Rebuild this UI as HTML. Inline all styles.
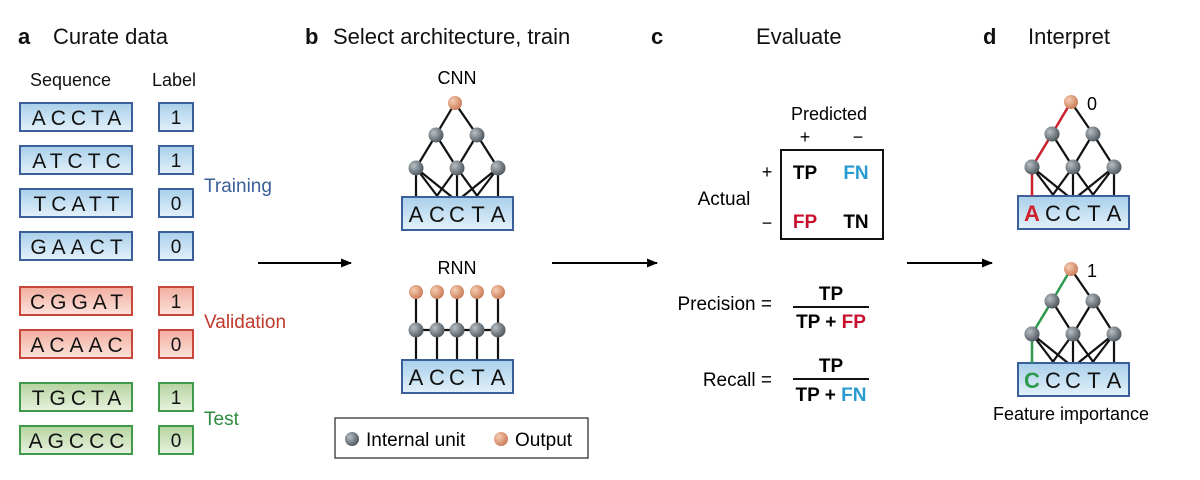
<!DOCTYPE html>
<html><head><meta charset="utf-8"><style>
body{margin:0;background:#fff;width:1200px;height:480px;overflow:hidden}
svg{display:block;font-family:"Liberation Sans",sans-serif}
</style></head><body>
<svg width="1200" height="480" viewBox="0 0 1200 480">
<defs>
<linearGradient id="gb" x1="0" y1="0" x2="0" y2="1"><stop offset="0" stop-color="#a9cfea"/><stop offset="1" stop-color="#e3f1fa"/></linearGradient>
<linearGradient id="gr" x1="0" y1="0" x2="0" y2="1"><stop offset="0" stop-color="#f2ad9f"/><stop offset="1" stop-color="#fce3dc"/></linearGradient>
<linearGradient id="gg" x1="0" y1="0" x2="0" y2="1"><stop offset="0" stop-color="#b5d3a0"/><stop offset="1" stop-color="#e8f2df"/></linearGradient>
<radialGradient id="gn" cx="0.35" cy="0.35" r="0.7"><stop offset="0" stop-color="#b8bfc4"/><stop offset="1" stop-color="#4b555c"/></radialGradient>
<radialGradient id="go" cx="0.35" cy="0.35" r="0.7"><stop offset="0" stop-color="#f6cdb3"/><stop offset="1" stop-color="#c97a55"/></radialGradient>
<marker id="ar" markerWidth="11" markerHeight="9" refX="10" refY="4.5" orient="auto" markerUnits="userSpaceOnUse"><path d="M0,0 L11,4.5 L0,9 Z" fill="#000"/></marker>
<g id="cnn">
<g stroke="#111" stroke-width="2.2" fill="none">
<line x1="455" y1="103" x2="436" y2="135"/><line x1="455" y1="103" x2="477" y2="135"/>
<line x1="436" y1="135" x2="416" y2="168"/><line x1="436" y1="135" x2="457" y2="168"/>
<line x1="477" y1="135" x2="457" y2="168"/><line x1="477" y1="135" x2="498" y2="168"/>
<line x1="416" y1="168" x2="416" y2="197"/><line x1="416" y1="168" x2="438" y2="197"/><line x1="416" y1="168" x2="452" y2="197"/>
<line x1="457" y1="168" x2="436" y2="197"/><line x1="457" y1="168" x2="457" y2="197"/><line x1="457" y1="168" x2="478" y2="197"/>
<line x1="498" y1="168" x2="462" y2="197"/><line x1="498" y1="168" x2="476" y2="197"/><line x1="498" y1="168" x2="498" y2="197"/>
</g>
<circle cx="436" cy="135" r="7.5" fill="url(#gn)"/><circle cx="477" cy="135" r="7.5" fill="url(#gn)"/>
<circle cx="416" cy="168" r="7.5" fill="url(#gn)"/><circle cx="457" cy="168" r="7.5" fill="url(#gn)"/><circle cx="498" cy="168" r="7.5" fill="url(#gn)"/>
<rect x="402" y="197" width="111" height="33" fill="url(#gb)" stroke="#3a5f9a" stroke-width="2"/>
</g>
</defs>
<g font-size="22" fill="#111">
<text x="18" y="44" font-weight="bold">a</text><text x="53" y="44">Curate data</text>
<text x="305" y="44" font-weight="bold">b</text><text x="333" y="44">Select architecture, train</text>
<text x="651" y="44" font-weight="bold">c</text><text x="756" y="44">Evaluate</text>
<text x="983" y="44" font-weight="bold">d</text><text x="1028" y="44">Interpret</text>
</g>
<g font-size="18" fill="#111"><text x="30" y="86">Sequence</text><text x="152" y="86">Label</text></g>
<g stroke-width="2" font-size="21" fill="#111" text-anchor="middle" letter-spacing="5">
<rect x="20" y="103" width="112" height="28" fill="url(#gb)" stroke="#3a5f9a"/><text x="79" y="125">ACCTA</text>
<rect x="20" y="146" width="112" height="28" fill="url(#gb)" stroke="#3a5f9a"/><text x="79" y="168">ATCTC</text>
<rect x="20" y="189" width="112" height="28" fill="url(#gb)" stroke="#3a5f9a"/><text x="79" y="211">TCATT</text>
<rect x="20" y="232" width="112" height="28" fill="url(#gb)" stroke="#3a5f9a"/><text x="79" y="254">GAACT</text>
<rect x="20" y="287" width="112" height="28" fill="url(#gr)" stroke="#c8473d"/><text x="79" y="309">CGGAT</text>
<rect x="20" y="330" width="112" height="28" fill="url(#gr)" stroke="#c8473d"/><text x="79" y="352">ACAAC</text>
<rect x="20" y="383" width="112" height="28" fill="url(#gg)" stroke="#3f9a4a"/><text x="79" y="405">TGCTA</text>
<rect x="20" y="426" width="112" height="28" fill="url(#gg)" stroke="#3f9a4a"/><text x="79" y="448">AGCCC</text>
</g>
<g stroke-width="2" font-size="19" fill="#111" text-anchor="middle">
<rect x="159" y="103" width="34" height="28" fill="url(#gb)" stroke="#3a5f9a"/><text x="176" y="124">1</text>
<rect x="159" y="146" width="34" height="28" fill="url(#gb)" stroke="#3a5f9a"/><text x="176" y="167">1</text>
<rect x="159" y="189" width="34" height="28" fill="url(#gb)" stroke="#3a5f9a"/><text x="176" y="210">0</text>
<rect x="159" y="232" width="34" height="28" fill="url(#gb)" stroke="#3a5f9a"/><text x="176" y="253">0</text>
<rect x="159" y="287" width="34" height="28" fill="url(#gr)" stroke="#c8473d"/><text x="176" y="308">1</text>
<rect x="159" y="330" width="34" height="28" fill="url(#gr)" stroke="#c8473d"/><text x="176" y="351">0</text>
<rect x="159" y="383" width="34" height="28" fill="url(#gg)" stroke="#3f9a4a"/><text x="176" y="404">1</text>
<rect x="159" y="426" width="34" height="28" fill="url(#gg)" stroke="#3f9a4a"/><text x="176" y="447">0</text>
</g>
<g font-size="19"><text x="204" y="192" fill="#3a5f9a">Training</text><text x="204" y="328" fill="#c0392b">Validation</text><text x="204" y="425" fill="#2e8b3e">Test</text></g>
<g stroke="#000" stroke-width="2"><line x1="258" y1="263" x2="351" y2="263" marker-end="url(#ar)"/><line x1="552" y1="263" x2="657" y2="263" marker-end="url(#ar)"/><line x1="907" y1="263" x2="992" y2="263" marker-end="url(#ar)"/></g>
<text x="457" y="84" font-size="18" text-anchor="middle">CNN</text>
<use href="#cnn"/>
<circle cx="455" cy="103" r="7" fill="url(#go)"/>
<g font-size="22" text-anchor="middle" fill="#111"><text x="416" y="222">A</text><text x="437" y="222">C</text><text x="457" y="222">C</text><text x="478" y="222">T</text><text x="498" y="222">A</text></g>
<text x="457" y="274" font-size="18" text-anchor="middle">RNN</text>
<g stroke="#111" stroke-width="2.2">
<line x1="416" y1="292" x2="416" y2="360"/><line x1="437" y1="292" x2="437" y2="360"/><line x1="457" y1="292" x2="457" y2="360"/><line x1="477" y1="292" x2="477" y2="360"/><line x1="498" y1="292" x2="498" y2="360"/>
<line x1="416" y1="330" x2="498" y2="330"/></g>
<g fill="url(#go)"><circle cx="416" cy="292" r="7"/><circle cx="437" cy="292" r="7"/><circle cx="457" cy="292" r="7"/><circle cx="477" cy="292" r="7"/><circle cx="498" cy="292" r="7"/></g>
<g fill="url(#gn)"><circle cx="416" cy="330" r="7.5"/><circle cx="437" cy="330" r="7.5"/><circle cx="457" cy="330" r="7.5"/><circle cx="477" cy="330" r="7.5"/><circle cx="498" cy="330" r="7.5"/></g>
<rect x="402" y="360" width="111" height="33" fill="url(#gb)" stroke="#3a5f9a" stroke-width="2"/>
<g font-size="22" text-anchor="middle" fill="#111"><text x="416" y="385">A</text><text x="437" y="385">C</text><text x="457" y="385">C</text><text x="478" y="385">T</text><text x="498" y="385">A</text></g>
<rect x="335" y="418" width="253" height="40" fill="#fff" stroke="#333" stroke-width="1.3"/>
<circle cx="352" cy="439" r="7" fill="url(#gn)"/><text x="366" y="446" font-size="19">Internal unit</text>
<circle cx="501" cy="439" r="7" fill="url(#go)"/><text x="515" y="446" font-size="19">Output</text>
<text x="829" y="120" font-size="18" text-anchor="middle">Predicted</text>
<text x="805" y="143" font-size="18" text-anchor="middle">+</text><text x="858" y="143" font-size="18" text-anchor="middle">−</text>
<text x="767" y="178" font-size="18" text-anchor="middle">+</text><text x="767" y="229" font-size="18" text-anchor="middle">−</text>
<text x="724" y="205" font-size="19" text-anchor="middle">Actual</text>
<rect x="781" y="150" width="102" height="89" fill="none" stroke="#111" stroke-width="2"/>
<g font-size="19" font-weight="bold" text-anchor="middle"><text x="805" y="179">TP</text><text x="856" y="179" fill="#2a9bd1">FN</text><text x="805" y="228" fill="#c8102e">FP</text><text x="856" y="228">TN</text></g>
<text x="772" y="310" font-size="19" text-anchor="end">Precision =</text>
<line x1="793" y1="307" x2="869" y2="307" stroke="#111" stroke-width="2"/>
<text x="831" y="300" font-size="19" font-weight="bold" text-anchor="middle">TP</text>
<text x="831" y="328" font-size="19" font-weight="bold" text-anchor="middle">TP + <tspan fill="#c8102e">FP</tspan></text>
<text x="772" y="386" font-size="19" text-anchor="end">Recall =</text>
<line x1="793" y1="379" x2="869" y2="379" stroke="#111" stroke-width="2"/>
<text x="831" y="372" font-size="19" font-weight="bold" text-anchor="middle">TP</text>
<text x="831" y="401" font-size="19" font-weight="bold" text-anchor="middle">TP + <tspan fill="#2a9bd1">FN</tspan></text>
<g transform="translate(616,-1)"><use href="#cnn"/></g>
<g stroke="#d0202e" stroke-width="2.4"><line x1="1071" y1="102" x2="1052" y2="134"/><line x1="1052" y1="134" x2="1032" y2="167"/><line x1="1032" y1="167" x2="1032" y2="196"/></g>
<circle cx="1052" cy="134" r="7.5" fill="url(#gn)"/><circle cx="1032" cy="167" r="7.5" fill="url(#gn)"/>
<circle cx="1071" cy="102" r="7" fill="url(#go)"/><text x="1087" y="110" font-size="18">0</text>
<g font-size="22" text-anchor="middle" fill="#111"><text x="1032" y="221" fill="#d0202e" font-weight="bold">A</text><text x="1053" y="221">C</text><text x="1073" y="221">C</text><text x="1094" y="221">T</text><text x="1114" y="221">A</text></g>
<g transform="translate(616,166)"><use href="#cnn"/></g>
<g stroke="#2e9b4e" stroke-width="2.4"><line x1="1071" y1="269" x2="1052" y2="301"/><line x1="1052" y1="301" x2="1032" y2="334"/><line x1="1032" y1="334" x2="1032" y2="363"/></g>
<circle cx="1052" cy="301" r="7.5" fill="url(#gn)"/><circle cx="1032" cy="334" r="7.5" fill="url(#gn)"/>
<circle cx="1071" cy="269" r="7" fill="url(#go)"/><text x="1087" y="277" font-size="18">1</text>
<g font-size="22" text-anchor="middle" fill="#111"><text x="1032" y="388" fill="#2e9b4e" font-weight="bold">C</text><text x="1053" y="388">C</text><text x="1073" y="388">C</text><text x="1094" y="388">T</text><text x="1114" y="388">A</text></g>
<text x="1071" y="420" font-size="18" text-anchor="middle">Feature importance</text>
</svg>
</body></html>
